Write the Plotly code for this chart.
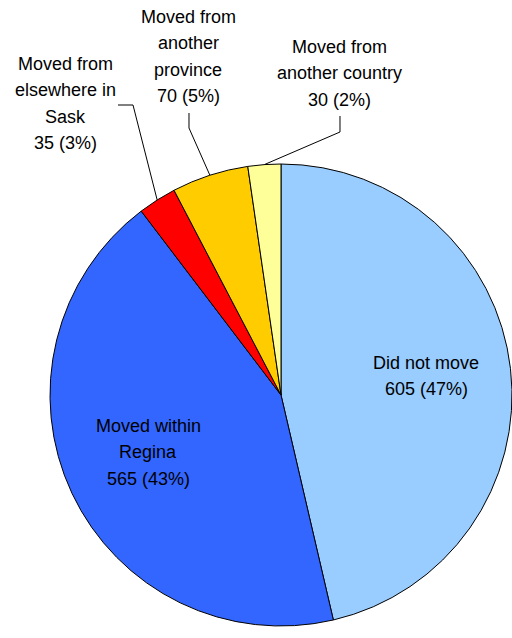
import math
import plotly.graph_objects as go

# ---- data ----
categories = ["Did not move", "Moved within Regina", "Moved from elsewhere in Sask",
              "Moved from another province", "Moved from another country"]
values = [605, 565, 35, 70, 30]
percent_labels = ["47%", "43%", "3%", "5%", "2%"]
label_lines = [
    ["Did not move"],
    ["Moved within", "Regina"],
    ["Moved from", "elsewhere in", "Sask"],
    ["Moved from", "another", "province"],
    ["Moved from", "another country"],
]
colors = ["#99CCFF", "#3366FF", "#FF0000", "#FFCC00", "#FFFF99"]

W, H = 512, 638
# pie geometry (pixels)
CX, CY, R = 281, 395, 231

fig = go.Figure(go.Pie(
    labels=categories, values=values, sort=False, direction="clockwise", rotation=0,
    marker=dict(colors=colors, line=dict(color="black", width=1)),
    textinfo="none", hoverinfo="label+value+percent", showlegend=False,
    domain=dict(x=[(CX - R) / W, (CX + R) / W], y=[1 - (CY + R) / H, 1 - (CY - R) / H]),
))

# label positions (layout, pixels): x-center, first-line y, line step
label_pos = [(426, 363), (148, 426), (65, 64), (188, 17), (339, 47)]
STEP = 26.3
annotations = []
for i, lines in enumerate(label_lines):
    full = lines + [f"{values[i]} ({percent_labels[i]})"]
    x0, y0 = label_pos[i]
    for j, t in enumerate(full):
        annotations.append(dict(
            x=x0 / W, y=1 - (y0 + j * STEP) / H, xref="paper", yref="paper",
            text=t, showarrow=False, xanchor="center", yanchor="middle",
            font=dict(family="Liberation Sans, Arial, sans-serif", size=18, color="black"),
        ))

# leader lines for the small outside labels: start points (layout), end on slice edge
total = sum(values)
cum = 0
mids = []
for v in values:
    mids.append((cum + v / 2) / total * 2 * math.pi)
    cum += v
leader_starts = {2: [(118, 105), (133, 105)], 3: [(189, 113), (189, 128)], 4: [(340, 116), (340, 132)]}
shapes = []
for i, pts in leader_starts.items():
    a = mids[i]
    ex, ey = CX + R * math.sin(a), CY - R * math.cos(a)
    path_pts = pts + [(ex, ey)]
    d = "M " + " L ".join(f"{px / W:.5f},{1 - py / H:.5f}" for px, py in path_pts)
    shapes.append(dict(type="path", path=d, xref="paper", yref="paper",
                       line=dict(color="black", width=1)))

fig.update_layout(
    width=W, height=H, margin=dict(l=0, r=0, t=0, b=0),
    paper_bgcolor="white", plot_bgcolor="white",
    annotations=annotations, shapes=shapes,
)
fig.write_html("out.html", config={"displayModeBar": False},
               post_script="document.body.style.margin='0';")
